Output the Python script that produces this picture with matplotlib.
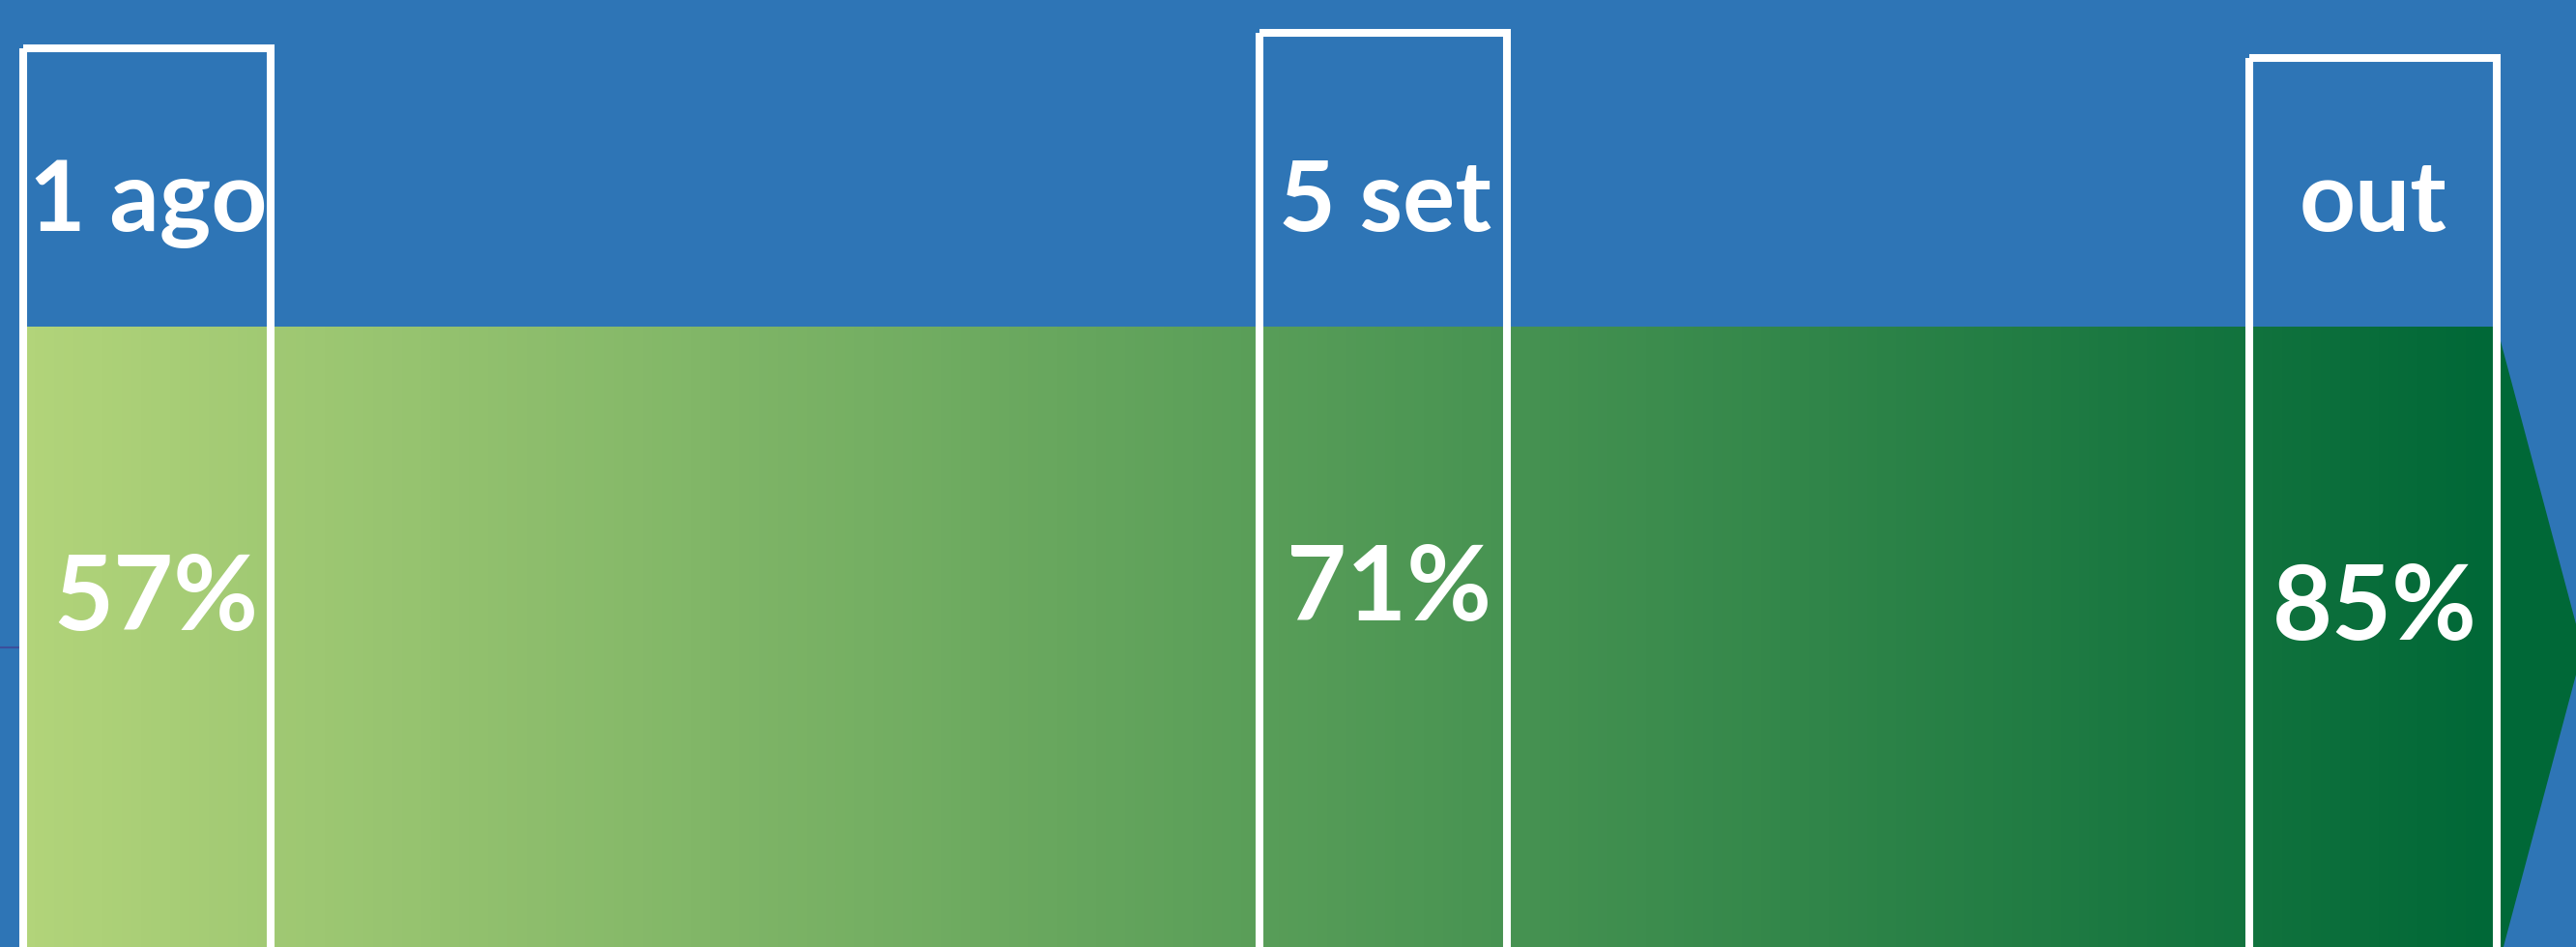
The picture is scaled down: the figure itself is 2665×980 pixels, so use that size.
import numpy as np
import matplotlib
matplotlib.use("Agg")
import matplotlib.pyplot as plt
from matplotlib.patches import Rectangle, Polygon
from matplotlib.colors import LinearSegmentedColormap

# data
stages = ["1 ago", "5 set", "out"]
percent = [57, 71, 85]

# layout (pixels, figure is 2665 x 980)
W, H = 2665, 980
box_left = [24, 1303, 2327]
box_right = [280, 1559, 2583]
box_top = [50, 34, 60]
label_x = [153, 1433, 2455]
label_base = 239
pct_x = [161, 1437, 2457]
pct_base = [652, 642, 662]

BLUE = "#2E75B6"
cmap = LinearSegmentedColormap.from_list("arrow", ["#B2D47A", "#006837"])

plt.rcParams['font.family'] = ['Lato', 'DejaVu Sans']

fig = plt.figure(figsize=(W / 100, H / 100), dpi=100)
fig.patch.set_facecolor(BLUE)
ax = fig.add_axes([0, 0, 1, 1])
ax.set_xlim(0, W)
ax.set_ylim(H, 0)
ax.axis("off")
ax.set_facecolor(BLUE)

# gradient arrow
body_top, body_bot = 338, 1006
head_x, tip_x, tip_y = 2587, 2672, 672
arrow = Polygon([(24, body_top), (head_x, body_top), (head_x, 353), (tip_x, tip_y),
                 (head_x, 991), (head_x, body_bot), (24, body_bot)],
                closed=True, facecolor="none", edgecolor="none")
ax.add_patch(arrow)
grad = np.linspace(0, 1, 512).reshape(1, -1)
im = ax.imshow(grad, cmap=cmap, aspect="auto", extent=(24, box_right[-1], body_bot, body_top),
               interpolation="bilinear", zorder=1)
im.set_clip_path(arrow)
# arrow head keeps the darkest colour
head = Polygon([(box_right[-1], body_top), (head_x, body_top), (head_x, 353), (tip_x, tip_y),
                (head_x, 991), (head_x, body_bot), (box_right[-1], body_bot)],
               closed=True, facecolor=cmap(1.0), edgecolor="none", zorder=1)
ax.add_patch(head)

# small stray axis tick at the left edge
ax.plot([0, 20], [670, 670], color="#3B4F9C", lw=1.5, zorder=2)

# outlined boxes with labels
for i, (lab, p) in enumerate(zip(stages, percent)):
    ax.add_patch(Rectangle((box_left[i], box_top[i]), box_right[i] - box_left[i], 1200 - box_top[i],
                           facecolor="none", edgecolor="white", lw=5.8, zorder=3))
    ax.text(label_x[i], label_base, lab, color="white", fontsize=73, fontweight="bold",
            ha="center", va="baseline", zorder=4)
    ax.text(pct_x[i], pct_base[i], f"{p}%", color="white", fontsize=77, fontweight="bold",
            ha="center", va="baseline", zorder=4)

plt.savefig("out.png", dpi=100, facecolor=BLUE)
plt.close()
